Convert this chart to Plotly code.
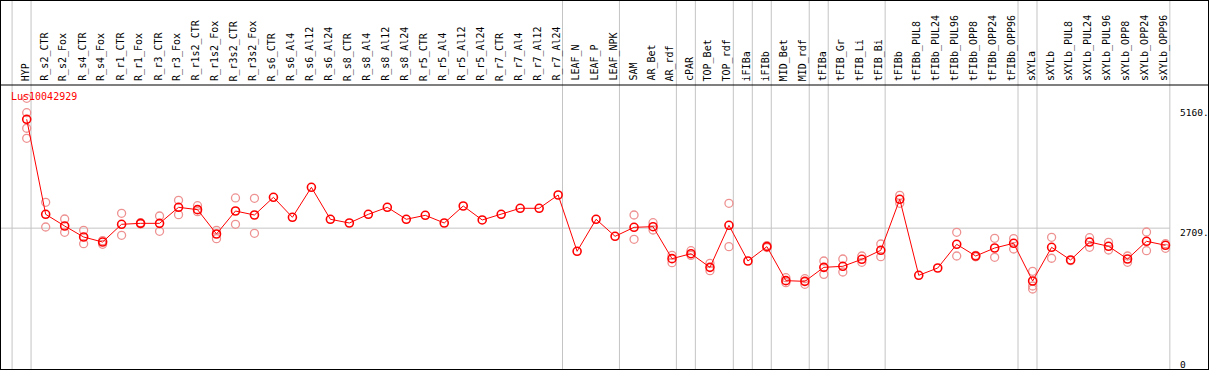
import plotly.graph_objects as go

categories = ["HYP", "R_s2_CTR", "R_s2_Fox", "R_s4_CTR", "R_s4_Fox", "R_r1_CTR", "R_r1_Fox",
              "R_r3_CTR", "R_r3_Fox", "R_r1s2_CTR", "R_r1s2_Fox", "R_r3s2_CTR", "R_r3s2_Fox",
              "R_s6_CTR", "R_s6_Al4", "R_s6_Al12", "R_s6_Al24", "R_s8_CTR", "R_s8_Al4",
              "R_s8_Al12", "R_s8_Al24", "R_r5_CTR", "R_r5_Al4", "R_r5_Al12", "R_r5_Al24",
              "R_r7_CTR", "R_r7_Al4", "R_r7_Al12", "R_r7_Al24", "LEAF_N", "LEAF_P", "LEAF_NPK",
              "SAM", "AR_Bet", "AR_rdf", "cPAR", "TOP_Bet", "TOP_rdf", "iFIBa", "iFIBb",
              "MID_Bet", "MID_rdf", "tFIBa", "tFIB_Gr", "tFIB_Li", "tFIB_Bi", "tFIBb",
              "tFIBb_PUL8", "tFIBb_PUL24", "tFIBb_PUL96", "tFIBb_OPP8", "tFIBb_OPP24",
              "tFIBb_OPP96", "sXYLa", "sXYLb", "sXYLb_PUL8", "sXYLb_PUL24", "sXYLb_PUL96",
              "sXYLb_OPP8", "sXYLb_OPP24", "sXYLb_OPP96"]

mean_values = [4946, 2993, 2753, 2527, 2424, 2788, 2808, 2808, 3137, 3089, 2589, 3061, 2979,
               3343, 2932, 3548, 2891, 2815, 2993, 3137, 2891, 2973, 2815, 3164, 2877,
               2993, 3117, 3117, 3390, 2233, 2891, 2541,
               2726, 2739, 2082, 2184, 1904, 2767, 2034, 2329,
               1630, 1616, 1904, 1925, 2069, 2254, 3302,
               1740, 1890, 2377, 2137, 2301, 2398,
               1623, 2315, 2055, 2424, 2336, 2075, 2439, 2357]

rep_a = [5377, 3240, 2897, 2665, 2452, 3014, 2820, 2959, 3281, 3170, 2665, 3329, 3322,
         None, None, None, None, None, None, None, None, None, None, None, None,
         None, None, None, None, None, None, None,
         2979, 2821, 2151, 2246, 1987, 3219, None, 2350,
         1691, 1671, 2034, 2075, 2137, 2383, 3384,
         None, None, 2624, 2150, 2500, 2493,
         1822, 2521, 2040, 2513, 2418, 2137, 2630, 2390]

rep_b = [5081, 2733, 2624, 2390, 2377, 2562, 2795, 2644, 2986, 3048, 2493, 2788, 2603,
         None, None, None, None, None, None, None, None, None, None, None, None,
         None, None, None, None, None, None, None,
         2480, 2671, 2000, 2150, 1835, 2329, None, 2310,
         1589, 1555, 1760, 1808, 2007, 2123, 3219,
         None, None, 2137, 2120, 2110, 2281,
         1520, 2090, None, 2315, 2260, 2007, 2246, 2295]

rep_c = [4761] + [None] * 52 + [1459] + [None] * 7
rep_d = [4555] + [None] * 60

group_ends = [-1, 0, 28, 31, 34, 35, 37, 38, 39, 41, 42, 45, 52, 53, 60]

y_ticks = [5160, 2709, 0]
y_tick_text = ["5160.", "2709.", "0"]
gene_name = "Lus10042929"

xs = list(range(len(categories)))
sep_offset = 0.23
header_level = 5650
mono = "DejaVu Sans Mono"

fig = go.Figure()

rep_style = dict(symbol="circle-open", size=8, color="rgb(238,145,145)",
                 line=dict(width=1.3, color="rgb(238,145,145)"))
for reps in (rep_a, rep_b, rep_c, rep_d):
    fig.add_trace(go.Scatter(x=xs, y=reps, mode="markers", marker=rep_style,
                             hoverinfo="skip", showlegend=False))

fig.add_trace(go.Scatter(x=xs, y=mean_values, mode="lines+markers",
                         line=dict(color="#ff0000", width=1),
                         marker=dict(symbol="circle-open", size=8,
                                     line=dict(width=1.6, color="#ee0000")),
                         showlegend=False))

shapes = []
for g in group_ends:
    shapes.append(dict(type="line", xref="x", yref="paper", x0=g + sep_offset, x1=g + sep_offset,
                       y0=0, y1=1, line=dict(color="#c4c4c4", width=1), layer="below"))
shapes.append(dict(type="line", xref="paper", yref="y", x0=0, x1=1, y0=header_level,
                   y1=header_level, line=dict(color="black", width=1.2), layer="above"))
shapes.append(dict(type="line", xref="x", yref="y", x0=-1.4, x1=group_ends[-1] + sep_offset,
                   y0=y_ticks[1], y1=y_ticks[1], line=dict(color="#c4c4c4", width=1),
                   layer="below"))

annotations = []
for i, name in enumerate(categories):
    annotations.append(dict(x=i - 0.08, y=header_level, xref="x", yref="y", text=name,
                            textangle=-90, showarrow=False, xanchor="center", yanchor="bottom",
                            yshift=2, font=dict(family=mono, size=10, color="black")))
for v, t in zip(y_ticks, y_tick_text):
    annotations.append(dict(x=0.975, y=v, xref="paper", yref="y", text=t, showarrow=False,
                            xanchor="left", yanchor="middle", yshift=-4,
                            font=dict(family=mono, size=9.5, color="black")))
annotations.append(dict(x=0.007, y=5404, xref="paper", yref="y", text=gene_name,
                        showarrow=False, xanchor="left", yanchor="middle",
                        font=dict(family=mono, size=10, color="#ff0000")))

fig.update_layout(
    width=1209, height=370,
    margin=dict(l=1, r=1, t=1, b=1),
    paper_bgcolor="white", plot_bgcolor="white",
    showlegend=False,
    xaxis=dict(range=[-1.354, 62.24], showgrid=False, zeroline=False, showticklabels=False,
               ticks="", showline=True, mirror=True, linecolor="black", linewidth=1.2),
    yaxis=dict(range=[-185, 7376], showgrid=False, zeroline=False, showticklabels=False,
               ticks="", showline=True, mirror=True, linecolor="black", linewidth=1.2),
    shapes=shapes,
    annotations=annotations,
)

fig.write_html("out.html", config={"displayModeBar": False},
               post_script="document.body.style.margin='0px';document.body.style.padding='0px';")
